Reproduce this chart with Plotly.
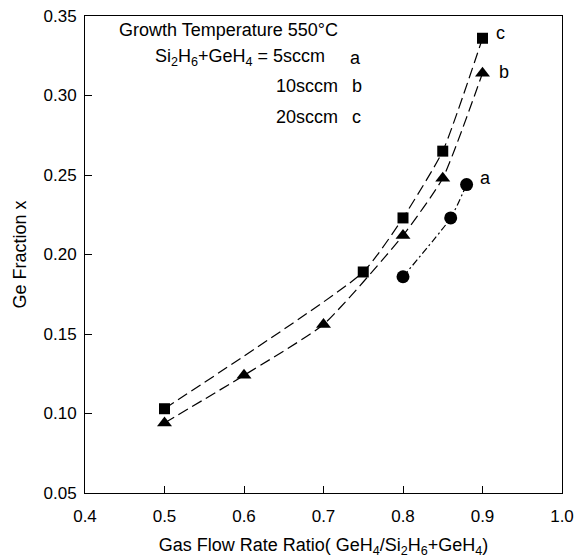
import plotly.graph_objects as go

# Data
x_c = [0.5, 0.75, 0.8, 0.85, 0.9]
y_c = [0.103, 0.189, 0.223, 0.265, 0.336]
x_b = [0.5, 0.6, 0.7, 0.8, 0.85, 0.9]
y_b = [0.094, 0.124, 0.156, 0.212, 0.248, 0.314]
x_a = [0.8, 0.86, 0.88]
y_a = [0.186, 0.223, 0.244]

x_ticks = [0.4, 0.5, 0.6, 0.7, 0.8, 0.9, 1.0]
y_ticks = [0.05, 0.10, 0.15, 0.20, 0.25, 0.30, 0.35]

FONT = "Liberation Sans, Arial, sans-serif"

fig = go.Figure()
fig.add_trace(go.Scatter(x=x_c, y=y_c, mode="lines+markers",
                         line=dict(color="black", width=1.2, dash="11px,5px", shape="spline", smoothing=0.5),
                         marker=dict(symbol="square", size=11, color="black"), name="c"))
fig.add_trace(go.Scatter(x=x_b, y=y_b, mode="lines+markers",
                         line=dict(color="black", width=1.2, dash="11px,5px", shape="spline", smoothing=0.5),
                         marker=dict(symbol="triangle-up", size=13, color="black"), name="b"))
fig.add_trace(go.Scatter(x=x_a, y=y_a, mode="lines+markers",
                         line=dict(color="black", width=1.2, dash="7px,3px,2px,3px", shape="spline", smoothing=0.5),
                         marker=dict(symbol="circle", size=13, color="black"), name="a"))

ann = [
    dict(x=0.440, y=0.3412, text="Growth Temperature 550°C", xanchor="left"),
    dict(x=0.7044, y=0.3236, text="Si<sub>2</sub>H<sub>6</sub>+GeH<sub>4</sub> = 5sccm", xanchor="right"),
    dict(x=0.731, y=0.3236, text="a", xanchor="left"),
    dict(x=0.638, y=0.3060, text="10sccm", xanchor="left"),
    dict(x=0.733, y=0.3060, text="b", xanchor="left"),
    dict(x=0.638, y=0.2865, text="20sccm", xanchor="left"),
    dict(x=0.733, y=0.2865, text="c", xanchor="left"),
    dict(x=0.915, y=0.3393, text="c", xanchor="left"),
    dict(x=0.918, y=0.3148, text="b", xanchor="left"),
    dict(x=0.894, y=0.2480, text="a", xanchor="left"),
]
for a in ann:
    fig.add_annotation(**a, xref="x", yref="y", showarrow=False, yanchor="middle",
                       font=dict(family=FONT, size=18, color="black"))

fig.update_xaxes(range=[0.4, 1.0], tickvals=x_ticks, ticktext=[f"{v:.1f}" for v in x_ticks],
                 ticks="inside", ticklen=7, tickcolor="black", showline=True, linecolor="black",
                 linewidth=1, mirror=True, showgrid=False, zeroline=False, ticklabelstandoff=8,
                 title=dict(text="Gas Flow Rate Ratio( GeH<sub>4</sub>/Si<sub>2</sub>H<sub>6</sub>+GeH<sub>4</sub>)",
                            font=dict(family=FONT, size=18, color="black"), standoff=15),
                 tickfont=dict(family=FONT, size=17, color="black"))
fig.update_yaxes(range=[0.05, 0.35], tickvals=y_ticks, ticktext=[f"{v:.2f}" for v in y_ticks],
                 ticks="inside", ticklen=7, tickcolor="black", showline=True, linecolor="black",
                 linewidth=1, mirror=True, showgrid=False, zeroline=False, ticklabelstandoff=4,
                 title=dict(text="Ge Fraction x", font=dict(family=FONT, size=18, color="black"), standoff=12),
                 tickfont=dict(family=FONT, size=17, color="black"))

fig.update_layout(width=576, height=558, margin=dict(l=85, r=14, t=16, b=65, autoexpand=False),
                  plot_bgcolor="white", paper_bgcolor="white", showlegend=False)

fig.write_html("out.html", config={"displayModeBar": False},
               post_script="document.body.style.margin='0';document.body.style.overflow='hidden';")
